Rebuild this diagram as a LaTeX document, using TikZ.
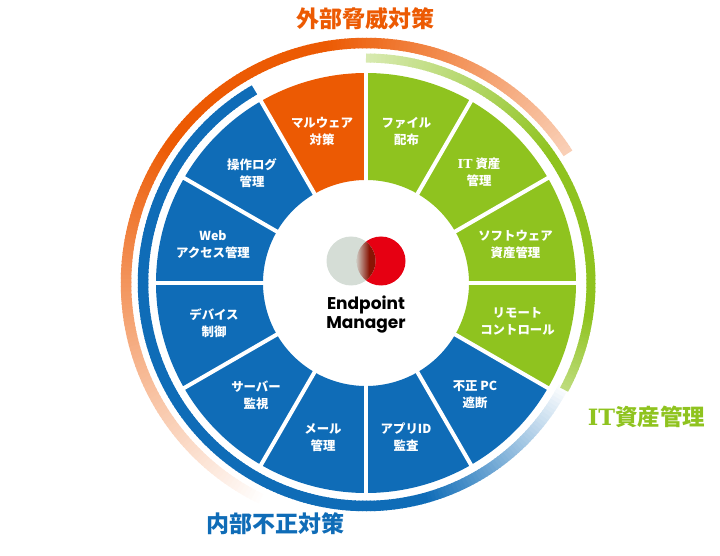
\documentclass[tikz,border=0pt]{standalone}
\usepackage{fontspec}
\usepackage{xcolor}
\setmainfont{Noto Sans CJK JP}
\newfontfamily\slabfont{DejaVu Serif}
\newfontfamily\logofont{Poppins}
\definecolor{ringorange}{HTML}{EC5A03}
\definecolor{ringblue}{HTML}{0F6CB7}
\definecolor{ringgreen}{HTML}{8FC31F}
\definecolor{logored}{HTML}{E60012}
\definecolor{logogrey}{HTML}{D5DDD6}
\definecolor{logodark}{HTML}{8A1505}
\usetikzlibrary{positioning}
\tikzset{
  seglabel/.style={text=white, font=\bfseries\fontsize{12.4}{17}\selectfont, align=center, inner sep=0pt},
  ringlabel/.style={font=\bfseries\fontsize{23}{26}\selectfont, inner sep=0pt},
  logolabel/.style={font=\logofont\bfseries\fontsize{17}{19}\selectfont, align=center, inner sep=0pt},
}
\begin{document}
\begin{tikzpicture}[x=1pt, y=1pt]
\useasboundingbox (0,0) rectangle (720,555);
\begin{scope}[shift={(366,272)}]
% wedges
\foreach \a/\c in {90/ringorange,60/ringgreen,30/ringgreen,0/ringgreen,-30/ringgreen,
  120/ringblue,150/ringblue,180/ringblue,210/ringblue,240/ringblue,270/ringblue,300/ringblue} {
  \pgfmathsetmacro{\b}{\a+30}
  \fill[\c] (\a:103) -- (\a:210) arc[start angle=\a, end angle=\b, radius=210]
    -- (\b:103) arc[start angle=\b, end angle=\a, radius=103] -- cycle;
}
\foreach \a in {0,30,...,330}
  \draw[white, line width=4pt] (\a:100) -- (\a:213);
% outer ring
\foreach \a in {245,244,...,34} {
  \pgfmathsetmacro{\p}{\a>145 ? (245-\a) : (\a>100 ? 100 : 28+(\a-33)/67*72)}
  \draw[draw=ringorange!\p!white, line width=10.5pt] (\a:240) arc[start angle=\a, end angle=\a-1.3, radius=240];
}
% blue ring
\foreach \a in {120,121,...,331} {
  \pgfmathsetmacro{\p}{\a<285 ? 100 : (332-\a)/47*100}
  \draw[draw=ringblue!\p!white, line width=10.5pt] (\a:223) arc[start angle=\a, end angle=\a+1.3, radius=223];
}
% green ring
\foreach \a in {90,89,...,-27} {
  \pgfmathsetmacro{\p}{\a>35 ? 35+(90-\a)/55*65 : (\a>-8 ? 100 : 55+(\a+29)/21*45)}
  \draw[draw=ringgreen!\p!white, line width=9pt] (\a:225) arc[start angle=\a, end angle=\a-1.3, radius=225];
}
\end{scope}
% logo
\fill[logored] (381,294) circle (24.5);
\fill[logogrey] (351,294) circle (24.5);
\begin{scope}
\clip (381,294) circle (24.5);
\clip (351,294) circle (24.5);
\shade[left color=logogrey, right color=logodark] (355,265) rectangle (369,323);
\fill[logodark] (369,265) rectangle (376,323);
\end{scope}
\node[logolabel] (logotext) at (366,240.5) {Endpoint\\Manager};
% wedge labels
\node[seglabel] (malware) at (322,423.5) {マルウェア\\対策};
\node[seglabel] (filedist) at (406.5,423.5) {ファイル\\配布};
\node[seglabel] (itasset) at (479,382.5) {{\slabfont IT} 資産\\管理};
\node[seglabel] (software) at (515.5,310.5) {ソフトウェア\\資産管理};
\node[seglabel] (remote) at (517.5,233.5) {リモート\\コントロール};
\node[seglabel] (rogue) at (475,160.5) {不正 PC\\遮断};
\node[seglabel] (appid) at (406,117.5) {アプリID\\監査};
\node[seglabel] (mail) at (323,117.5) {メール\\管理};
\node[seglabel] (server) at (256,159.5) {サーバー\\監視};
\node[seglabel] (device) at (214,231.5) {デバイス\\制御};
\node[seglabel] (web) at (213,310.5) {Web\\アクセス管理};
\node[seglabel] (oplog) at (252,381.5) {操作ログ\\管理};
% ring labels
\node[ringlabel, text=ringorange] (external) at (365,536) {外部脅威対策};
\node[ringlabel, text=ringgreen, font=\bfseries\fontsize{22.5}{24}\selectfont] (assetmgmt) at (646.5,138) {{\slabfont IT}資産管理};
\node[ringlabel, text=ringblue] (internal) at (275,31) {内部不正対策};
\end{tikzpicture}
\end{document}
